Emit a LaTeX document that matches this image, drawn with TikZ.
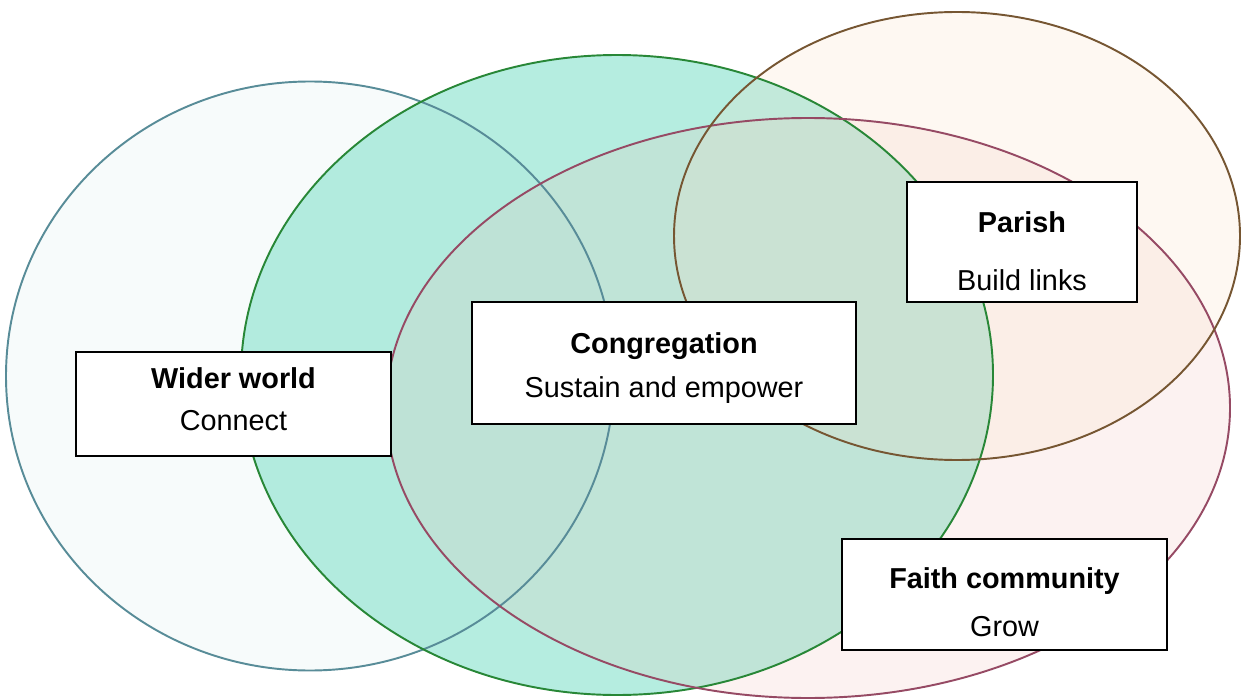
\documentclass[tikz,border=0pt]{standalone}
\usepackage{fontspec}
\setmainfont{Liberation Sans}
\definecolor{worldline}{RGB}{88,140,152}
\definecolor{worldfill}{RGB}{236,244,244}
\definecolor{congline}{RGB}{40,135,55}
\definecolor{congfill}{RGB}{149,229,211}
\definecolor{faithline}{RGB}{150,74,100}
\definecolor{faithfill}{RGB}{238,192,184}
\definecolor{parishline}{RGB}{118,86,50}
\definecolor{parishfill}{RGB}{248,220,192}
\begin{document}
\begin{tikzpicture}[x=0.02cm,y=-0.02cm]
		\tikzstyle {ring} = [line width=1.1pt]
		\tikzstyle {label box} = [draw=black, fill=white, line width=1.1pt, align=center, inner sep=0pt, font=\fontsize{16.4}{24.4}\selectfont]

		\useasboundingbox (0,0) rectangle (1243,699);

		% fills
		\fill[worldfill, opacity=.4] (310,376) ellipse [x radius=304, y radius=294.5];
		\fill[congfill, opacity=.7] (617,375) ellipse [x radius=376, y radius=320];
		\fill[faithfill, opacity=.2] (808,408) ellipse [x radius=422, y radius=290];
		\fill[parishfill, opacity=.2] (957,236) ellipse [x radius=283, y radius=224];

		% outlines
		\draw[ring, worldline] (310,376) ellipse [x radius=304, y radius=294.5];
		\draw[ring, congline] (617,375) ellipse [x radius=376, y radius=320];
		\draw[ring, faithline] (808,408) ellipse [x radius=422, y radius=290];
		\draw[ring, parishline] (957,236) ellipse [x radius=283, y radius=224];

		\node[label box, minimum width=6.3cm, minimum height=2.08cm] (world) at (233.5,404) {\textbf{Wider world}\\Connect\rule[-5.7pt]{0pt}{0pt}};
		\node[label box, minimum width=7.68cm, minimum height=2.44cm] (cong) at (664,363) {\rule{0pt}{17.6pt}\textbf{Congregation}\\[1.1pt]Sustain and empower};
		\node[label box, minimum width=4.6cm, minimum height=2.4cm] (parish) at (1022,242) {\rule{0pt}{22.1pt}\textbf{Parish}\\[8.5pt]Build links};
		\node[label box, minimum width=6.5cm, minimum height=2.22cm] (faith) at (1004.5,594.5) {\rule{0pt}{21pt}\textbf{Faith community}\\[2.8pt]Grow};
	\end{tikzpicture}
\end{document}
